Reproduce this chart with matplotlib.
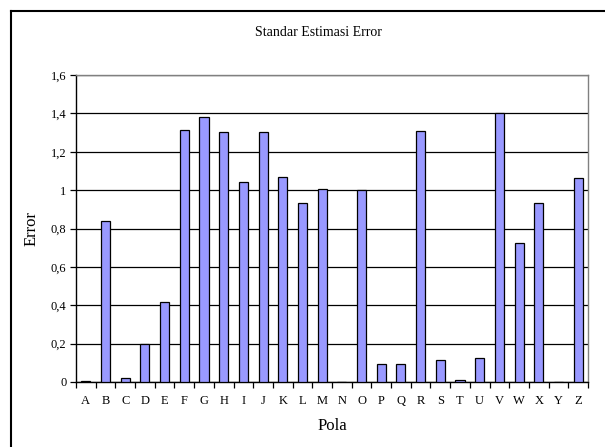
import matplotlib

matplotlib.use("Agg")
import matplotlib.pyplot as plt
import matplotlib.ticker as tick
from matplotlib.lines import Line2D

categories = list("ABCDEFGHIJKLMNOPQRSTUVWXYZ")
errors = [
    0.005, 0.84, 0.023, 0.20, 0.417, 1.315, 1.383, 1.303, 1.04, 1.303,
    1.069, 0.932, 1.006, 0.0, 1.001, 0.095, 0.095, 1.308, 0.113, 0.01,
    0.123, 1.40, 0.725, 0.932, 0.0, 1.062,
]
y_ticks = [0, 0.2, 0.4, 0.6, 0.8, 1.0, 1.2, 1.4, 1.6]


def comma_fmt(val, pos):
    if abs(val - round(val)) < 1e-9:
        return f"{val:.0f}"
    return f"{val:.1f}".replace(".", ",")


plt.rcParams["font.family"] = ["Liberation Serif", "DejaVu Serif"]

fig = plt.figure(figsize=(6.05, 4.47), dpi=100)
ax = fig.add_axes([76 / 605, 1 - 382 / 447, 512 / 605, 307 / 447])

x = list(range(len(categories)))
ax.bar(x, errors, width=0.46, color="#9999FF", edgecolor="black", linewidth=0.9, zorder=3)

ax.set_xlim(-0.5, len(categories) - 0.5)
ax.set_ylim(0, 1.6)
ax.set_yticks(y_ticks)
ax.yaxis.set_major_formatter(tick.FuncFormatter(comma_fmt))
ax.yaxis.grid(True, color="black", linewidth=0.9, zorder=1)

# category labels centered, ticks on category boundaries
ax.set_xticks(x)
ax.set_xticklabels(categories)
ax.set_xticks([i - 0.5 for i in range(len(categories) + 1)], minor=True)
ax.tick_params(axis="x", which="major", length=0, labelsize=9, pad=9)
ax.tick_params(axis="x", which="minor", length=4, width=0.9, direction="out")
ax.tick_params(axis="y", which="major", length=4, width=0.9, labelsize=9, pad=3)

for side in ["top", "right"]:
    ax.spines[side].set_color("#808080")
    ax.spines[side].set_linewidth(1.0)
for side in ["left", "bottom"]:
    ax.spines[side].set_color("black")
    ax.spines[side].set_linewidth(1.0)

ax.set_xlabel("Pola", fontsize=12, labelpad=8)
ax.set_ylabel("Error", fontsize=12, labelpad=8)
fig.text(318 / 605, 1 - 32 / 447, "Standar Estimasi Error", ha="center", va="center", fontsize=10)

# outer chart frame (only left and top edges fall inside the image)
fig.add_artist(Line2D([11 / 605, 11 / 605], [0, 1 - 11 / 447], transform=fig.transFigure, color="black", lw=1.5))
fig.add_artist(Line2D([11 / 605, 1], [1 - 11 / 447, 1 - 11 / 447], transform=fig.transFigure, color="black", lw=1.5))

fig.savefig("out.png", dpi=100)
